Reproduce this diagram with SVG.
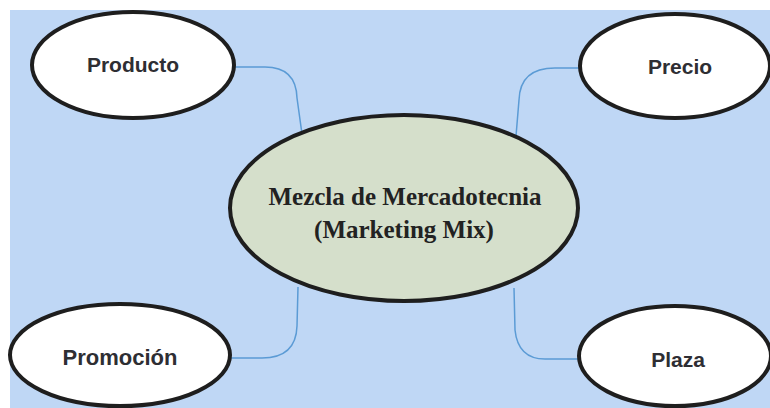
<svg xmlns="http://www.w3.org/2000/svg" width="770" height="408" viewBox="0 0 770 408">
<style>
.node{fill:#ffffff;stroke:#1e1e1e;stroke-width:4}
.center{fill:#d5dfcb;stroke:#1e1e1e;stroke-width:4}
.lbl{font-family:"Liberation Sans",Arial,sans-serif;font-weight:bold;font-size:21px;fill:#2e2e33;text-anchor:middle}
.clbl{font-family:"Liberation Serif","Times New Roman",serif;font-weight:bold;font-size:25px;fill:#222222;text-anchor:middle}
.conn{fill:none;stroke:#5b9bd5;stroke-width:1.5}
</style>
<rect x="0" y="0" width="770" height="408" fill="#ffffff"/>
<rect x="10" y="10" width="760" height="398" fill="#bfd7f5"/>
<g id="connectors">
<path class="conn" d="M235,67 H265 Q296,67 297,98 L302,134"/>
<path class="conn" d="M580,68 H555 Q520,68 519,100 L516,136"/>
<path class="conn" d="M230,358 H262 Q296,358 297,326 L298,287"/>
<path class="conn" d="M514,288 L515,330 Q518,359 545,359 H578"/>
</g>
<g id="center">
<ellipse class="center" cx="404" cy="208" rx="174" ry="93"/>
<text class="clbl" x="405" y="205">Mezcla de Mercadotecnia</text>
<text class="clbl" x="404" y="238">(Marketing Mix)</text>
</g>
<g id="producto">
<ellipse class="node" cx="133" cy="65" rx="101" ry="53"/>
<text class="lbl" x="133" y="72">Producto</text>
</g>
<g id="precio">
<ellipse class="node" cx="675" cy="66" rx="95" ry="52"/>
<text class="lbl" x="680" y="74">Precio</text>
</g>
<g id="promocion">
<ellipse class="node" cx="120" cy="355" rx="110" ry="51"/>
<text class="lbl" x="120" y="365" style="font-size:22px">Promoción</text>
</g>
<g id="plaza">
<ellipse class="node" cx="675" cy="356" rx="96" ry="50"/>
<text class="lbl" x="678" y="367">Plaza</text>
</g>
</svg>
